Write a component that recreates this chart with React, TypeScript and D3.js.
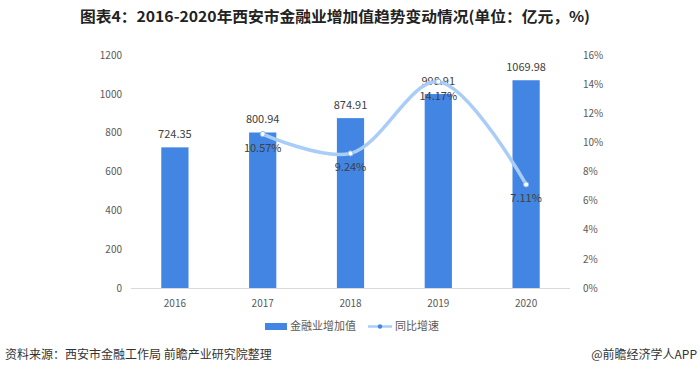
import React, { useRef, useEffect } from 'react';
import * as d3 from 'd3';

const years = ['2016', '2017', '2018', '2019', '2020'];
const finValue = [724.35, 800.94, 874.91, 998.91, 1069.98];
const growthYears = ['2017', '2018', '2019', '2020'];
const growth = [10.57, 9.24, 14.17, 7.11];
const leftTicks = [0, 200, 400, 600, 800, 1000, 1200];
const rightTicks = [0, 2, 4, 6, 8, 10, 12, 14, 16];

const barColor = '#4285e3';
const lineColor = '#a9cdf7';
const font = '"Microsoft YaHei", "Noto Sans CJK SC", sans-serif';

const App: React.FC = () => {
  const ref = useRef<SVGSVGElement>(null);

  useEffect(() => {
    const svg = d3.select(ref.current);
    svg.selectAll('*').remove();

    const W = 700, H = 374;
    const left = 131, right = 570, top = 55, bottom = 288;

    svg.append('rect').attr('width', W).attr('height', H).attr('fill', '#fff');

    svg.append('text')
      .attr('x', 80).attr('y', 22)
      .attr('textLength', 510)
      .attr('lengthAdjust', 'spacingAndGlyphs')
      .attr('font-family', '"Noto Sans CJK SC", sans-serif')
      .attr('font-weight', 'bold')
      .attr('font-size', 15)
      .attr('fill', '#222')
      .text('图表4：2016-2020年西安市金融业增加值趋势变动情况(单位：亿元，%)');

    const x = d3.scaleBand().domain(years).range([left, right]).paddingInner(0.69).paddingOuter(0.345);
    const y = d3.scaleLinear().domain([0, 1200]).range([bottom, top]);
    const y2 = d3.scaleLinear().domain([0, 16]).range([bottom, top]);

    // left axis
    const gl = svg.append('g').attr('transform', `translate(${left - 9},0)`)
      .call(d3.axisLeft(y).tickValues(leftTicks).tickFormat(d => `${d}`).tickSize(0).tickPadding(0));
    gl.select('.domain').remove();
    gl.selectAll('text').attr('font-family', font).attr('font-size', 10).attr('fill', '#595959');

    // right axis
    const gr = svg.append('g').attr('transform', `translate(${right + 13},0)`)
      .call(d3.axisRight(y2).tickValues(rightTicks).tickFormat(d => `${d}%`).tickSize(0).tickPadding(0));
    gr.select('.domain').remove();
    gr.selectAll('text').attr('font-family', font).attr('font-size', 10).attr('fill', '#595959');

    // baseline
    svg.append('line').attr('x1', left).attr('x2', right).attr('y1', bottom + 0.5).attr('y2', bottom + 0.5)
      .attr('stroke', '#d9d9d9');

    // x axis labels
    const gx = svg.append('g').attr('transform', `translate(0,${bottom})`)
      .call(d3.axisBottom(x).tickSize(0).tickPadding(12));
    gx.select('.domain').remove();
    gx.selectAll('text').attr('font-family', font).attr('font-size', 10).attr('fill', '#595959');

    // bars
    svg.selectAll('.bar').data(finValue).enter().append('rect')
      .attr('x', (_, i) => x(years[i])!)
      .attr('y', d => y(d))
      .attr('width', x.bandwidth())
      .attr('height', d => bottom - y(d))
      .attr('fill', barColor);

    svg.selectAll('.blabel').data(finValue).enter().append('text')
      .attr('x', (_, i) => x(years[i])! + x.bandwidth() / 2)
      .attr('y', d => y(d) - 9)
      .attr('text-anchor', 'middle')
      .attr('font-family', font).attr('font-size', 11).attr('fill', '#404040')
      .text(d => d.toFixed(2));

    // line
    const cx = (yr: string) => x(yr)! + x.bandwidth() / 2;
    const line = d3.line<number>()
      .x((_, i) => cx(growthYears[i]))
      .y(d => y2(d))
      .curve(d3.curveCatmullRom.alpha(0.5));

    svg.append('path').datum(growth)
      .attr('d', line)
      .attr('fill', 'none')
      .attr('stroke', lineColor)
      .attr('stroke-width', 3.5);

    svg.selectAll('.pt').data(growth).enter().append('circle')
      .attr('cx', (_, i) => cx(growthYears[i]))
      .attr('cy', d => y2(d))
      .attr('r', 2.6)
      .attr('fill', '#fff')
      .attr('stroke', '#7fb2ef')
      .attr('stroke-width', 1);

    svg.selectAll('.glabel').data(growth).enter().append('text')
      .attr('x', (_, i) => cx(growthYears[i]))
      .attr('y', d => y2(d) + 18)
      .attr('text-anchor', 'middle')
      .attr('font-family', font).attr('font-size', 11).attr('fill', '#404040')
      .text(d => `${d.toFixed(2)}%`);

    // legend
    const lg = svg.append('g').attr('transform', 'translate(0,326)');
    lg.append('rect').attr('x', 265).attr('y', -3).attr('width', 22).attr('height', 7).attr('fill', barColor);
    lg.append('text').attr('x', 290).attr('y', 4).attr('font-family', font).attr('font-size', 11)
      .attr('fill', '#595959').text('金融业增加值');
    lg.append('line').attr('x1', 368).attr('x2', 392).attr('y1', 0.5).attr('y2', 0.5)
      .attr('stroke', lineColor).attr('stroke-width', 2.5);
    lg.append('circle').attr('cx', 380).attr('cy', 0.5).attr('r', 2.2).attr('fill', '#4285e3');
    lg.append('text').attr('x', 395).attr('y', 4).attr('font-family', font).attr('font-size', 11)
      .attr('fill', '#595959').text('同比增速');

    // footer
    svg.append('text').attr('x', 5).attr('y', 359).attr('font-family', font).attr('font-size', 12)
      .attr('fill', '#333').text('资料来源：西安市金融工作局 前瞻产业研究院整理');
    svg.append('text').attr('x', 697).attr('y', 359).attr('text-anchor', 'end').attr('font-family', font)
      .attr('font-size', 12).attr('fill', '#333').text('@前瞻经济学人APP');
  }, []);

  return (
    <svg ref={ref} width={700} height={374}
      style={{ position: 'absolute', left: 0, top: 0, display: 'block' }} />
  );
};

export default App;
